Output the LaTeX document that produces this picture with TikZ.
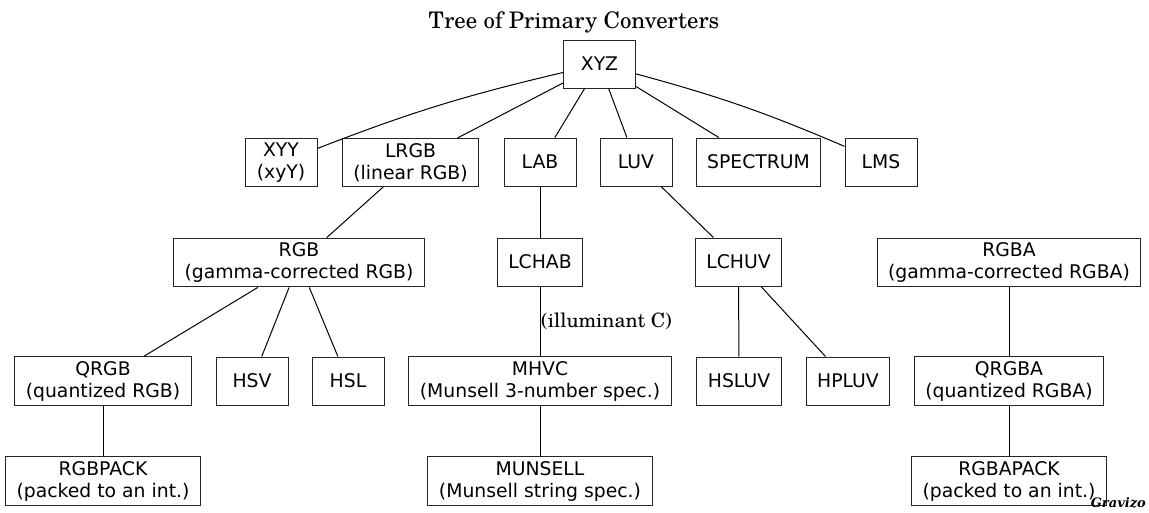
\documentclass[tikz,border=0pt]{standalone}
\usepackage{fontspec}
\newfontfamily\nodefont{DejaVu Sans}
\newfontfamily\titlefont{TeX Gyre Schola}
\newfontfamily\wmfont{DejaVu Serif}
\begin{document}
\begin{tikzpicture}[x=1pt,y=-1pt,
  box/.style={draw=black!85, line width=1pt, rectangle, align=center,
    font=\nodefont\fontsize{18.8}{22}\selectfont,
    minimum width=72pt, minimum height=48pt, inner xsep=11pt, inner ysep=4.5pt},
  edge/.style={draw=black, line width=1pt},
  lbl/.style={font=\titlefont\fontsize{19.8}{22}\selectfont, inner sep=0pt}]
\useasboundingbox (0,0) rectangle (1149,512);
\fill[white] (0,0) rectangle (1149,512);
\node[lbl, font=\titlefont\fontsize{22.8}{26}\selectfont, anchor=base] (title) at (574,28) {Tree of Primary Converters};

\node[box] (xyz) at (599.5,64) {XYZ};
\node[box] (xyy) at (281,162.5) {XYY\\(xyY)};
\node[box] (lrgb) at (410.5,162.5) {LRGB\\(linear RGB)};
\node[box] (lab) at (540,162) {LAB};
\node[box] (luv) at (636,162) {LUV};
\node[box] (spectrum) at (758.5,162) {SPECTRUM};
\node[box] (lms) at (881,162) {LMS};

\node[box] (rgb) at (299,262.5) {RGB\\(gamma-corrected RGB)};
\node[box] (lchab) at (540,262) {LCHAB};
\node[box] (lchuv) at (738.5,262) {LCHUV};
\node[box] (rgba) at (1009,262.5) {RGBA\\(gamma-corrected RGBA)};

\node[box] (qrgb) at (103,381) {QRGB\\(quantized RGB)};
\node[box] (hsv) at (252,381) {HSV};
\node[box] (hsl) at (348,381) {HSL};
\node[box] (mhvc) at (540,381) {MHVC\\(Munsell 3-number spec.)};
\node[box] (hsluv) at (739,381) {HSLUV};
\node[box] (hpluv) at (848,381) {HPLUV};
\node[box] (qrgba) at (1009,381) {QRGBA\\(quantized RGBA)};

\node[box] (rgbpack) at (103,481) {RGBPACK\\(packed to an int.)};
\node[box] (munsell) at (540,481) {MUNSELL\\(Munsell string spec.)};
\node[box] (rgbapack) at (1009,481) {RGBAPACK\\(packed to an int.)};

\draw[edge] (xyz) to[bend right=4] (xyy);
\draw[edge] (xyz) -- (lrgb);
\draw[edge] (xyz) -- (lab);
\draw[edge] (xyz) -- (luv);
\draw[edge] (xyz) -- (spectrum);
\draw[edge] (xyz) to[bend left=4] (lms);
\draw[edge] (lrgb) -- (rgb);
\draw[edge] (lab) -- (lchab);
\draw[edge] (luv) -- (lchuv);
\draw[edge] (rgb) -- (qrgb);
\draw[edge] (rgb) -- (hsv);
\draw[edge] (rgb) -- (hsl);
\draw[edge] (lchab) -- (mhvc);
\draw[edge] (mhvc) -- (munsell);
\draw[edge] (lchuv) -- (hsluv);
\draw[edge] (lchuv) -- (hpluv);
\draw[edge] (rgba) -- (qrgba);
\draw[edge] (qrgb) -- (rgbpack);
\draw[edge] (qrgba) -- (rgbapack);

\node[lbl, anchor=base west] (illum) at (541,327) {(illuminant C)};
\node[font=\wmfont\bfseries\itshape\fontsize{13}{15}\selectfont, anchor=base east, inner sep=0pt] (wm) at (1146,507) {Gravizo};
\end{tikzpicture}
\end{document}
